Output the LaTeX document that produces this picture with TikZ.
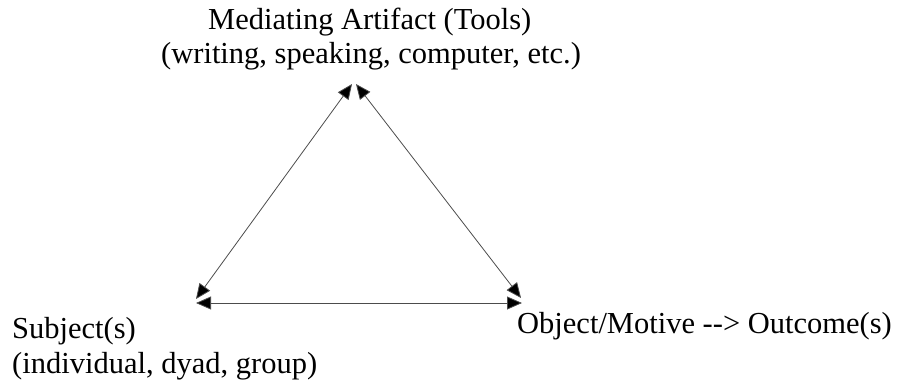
\documentclass[tikz,border=0pt]{standalone}
\usepackage{fontspec}
\setmainfont{Liberation Serif}
\usetikzlibrary{arrows.meta}
\begin{document}
\begin{tikzpicture}[x=1pt,y=-1pt,
  lbl/.style={font=\fontsize{30.5}{36}\selectfont, inner sep=0pt},
  conn/.style={draw=black!70, line width=0.8pt, {Triangle[length=15pt,width=13pt,fill=black]}-{Triangle[length=15pt,width=13pt,fill=black]}}]
\useasboundingbox (0,0) rectangle (902,381);
\node[lbl, anchor=base west] (t1) at (208,29) {Mediating Artifact (Tools)};
\node[lbl, anchor=base west] (t2) at (161,63) {(writing, speaking, computer, etc.)};
\node[lbl, anchor=base west] (s1) at (12,338) {Subject(s)};
\node[lbl, anchor=base west] (s2) at (12,373) {(individual, dyad, group)};
\node[lbl, anchor=base west] (o1) at (517,333) {Object/Motive -{}-> Outcome(s)};
\coordinate (topL) at (352,84);
\coordinate (topR) at (356,84);
\coordinate (blD) at (196,299);
\coordinate (blH) at (196,303);
\coordinate (brD) at (521,298);
\coordinate (brH) at (522,303);
\draw[conn] (blD) -- (topL);
\draw[conn] (topR) -- (brD);
\draw[conn] (blH) -- (brH);
\end{tikzpicture}
\end{document}
